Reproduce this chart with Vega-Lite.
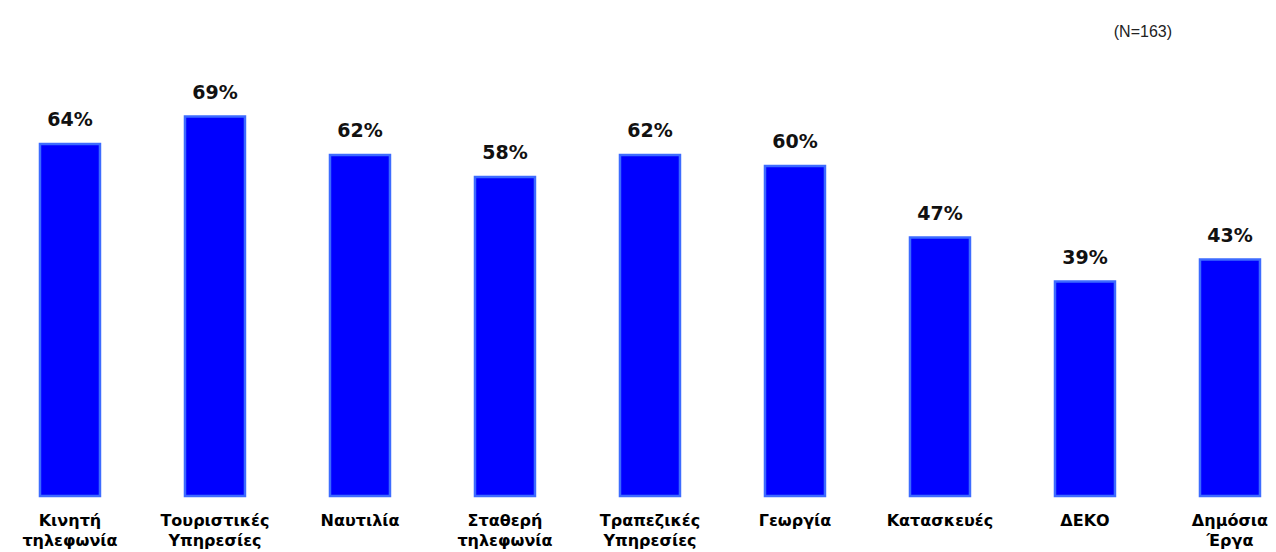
{
  "$schema": "https://vega.github.io/schema/vega-lite/v6.json",
  "width": 1276,
  "height": 495,
  "autosize": {"type": "none"},
  "padding": {"top": 1, "left": 0, "right": 0, "bottom": 56},
  "background": "white",
  "title": {
    "text": "(N=163)",
    "anchor": "end",
    "orient": "top",
    "font": "Liberation Sans",
    "fontSize": 16,
    "fontWeight": "normal",
    "color": "#222222",
    "baseline": "middle",
    "dx": -104,
    "dy": 51
  },
  "data": {
    "values": [
      {"sector": "Κινητή τηλεφωνία", "share": 0.64},
      {"sector": "Τουριστικές Υπηρεσίες", "share": 0.69},
      {"sector": "Ναυτιλία", "share": 0.62},
      {"sector": "Σταθερή τηλεφωνία", "share": 0.58},
      {"sector": "Τραπεζικές Υπηρεσίες", "share": 0.62},
      {"sector": "Γεωργία", "share": 0.60},
      {"sector": "Κατασκευές", "share": 0.47},
      {"sector": "ΔΕΚΟ", "share": 0.39},
      {"sector": "Δημόσια Έργα", "share": 0.43}
    ]
  },
  "encoding": {
    "x": {
      "field": "sector",
      "type": "nominal",
      "sort": null,
      "scale": {"paddingInner": 0.5862, "paddingOuter": 0.1931, "align": 0.714},
      "axis": {
        "title": null,
        "domain": false,
        "ticks": false,
        "labelAngle": 0,
        "labelExpr": "split(datum.label, ' ')",
        "labelFont": "DejaVu Sans",
        "labelFontWeight": "bold",
        "labelFontSize": 16,
        "labelColor": "#000000",
        "labelPadding": 16,
        "labelLineHeight": 20,
        "labelBaseline": "top"
      }
    },
    "y": {
      "field": "share",
      "type": "quantitative",
      "scale": {"domain": [0, 0.9], "nice": false},
      "axis": null
    }
  },
  "layer": [
    {
      "mark": {"type": "bar", "color": "#0000FF", "stroke": "#3D6BFF", "strokeWidth": 2.5}
    },
    {
      "mark": {
        "type": "text",
        "baseline": "bottom",
        "dy": -14,
        "font": "DejaVu Sans",
        "fontWeight": "bold",
        "fontSize": 19,
        "color": "#111111"
      },
      "encoding": {
        "text": {"field": "share", "type": "quantitative", "format": ".0%"}
      }
    }
  ],
  "config": {"view": {"stroke": null}}
}
